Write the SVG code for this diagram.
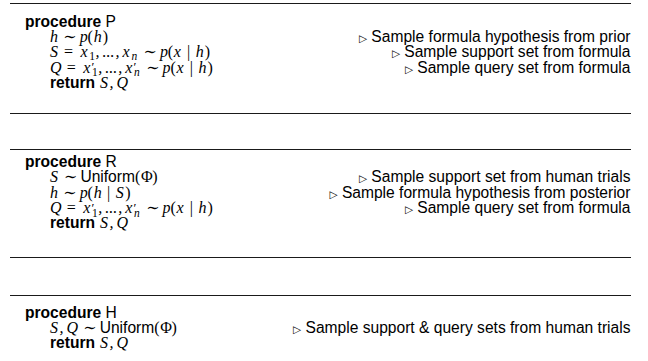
<svg xmlns="http://www.w3.org/2000/svg" width="648" height="361" viewBox="0 0 648 361">
  <style>
    .rule { stroke: #1a1a1a; stroke-width: 1.2; fill: none; }
    text { fill: #000; }
    .kw { font-family: "Liberation Sans", Arial, sans-serif; font-weight: bold; font-size: 15.6px; }
    .sf { font-family: "Liberation Sans", Arial, sans-serif; font-weight: normal; font-size: 15.6px; }
    .mi { font-family: "Liberation Serif", "DejaVu Serif", serif; font-style: italic; font-size: 16px; }
    .mr { font-family: "Liberation Serif", "DejaVu Serif", serif; font-style: normal; font-size: 16px; }
    .op { font-family: "Liberation Serif", "DejaVu Serif", serif; font-size: 16px; }
    .sub { font-size: 11.5px; }
    .pr { font-family: "Liberation Serif", "DejaVu Serif", serif; font-size: 13px; }
    .cm { font-family: "Liberation Sans", Arial, sans-serif; font-size: 15.6px; text-anchor: end; }
    .tri { font-family: "DejaVu Sans", sans-serif; font-size: 10.5px; }
  </style>

  <!-- rules framing each procedure -->
  <g id="rules">
    <line class="rule" x1="10" y1="3.5" x2="631" y2="3.5"/>
    <line class="rule" x1="10" y1="113.5" x2="631" y2="113.5"/>
    <line class="rule" x1="10" y1="149.5" x2="631" y2="149.5"/>
    <line class="rule" x1="10" y1="257.5" x2="631" y2="257.5"/>
    <line class="rule" x1="10" y1="295.5" x2="631" y2="295.5"/>
  </g>

  <!-- procedure P: sample from the prior -->
  <g id="procP">
    <text x="25" y="26.5"><tspan class="kw">procedure</tspan><tspan class="sf"> P</tspan></text>
    <text y="41.9">
      <tspan class="mi" x="50">h</tspan><tspan class="op" x="63.3">∼</tspan><tspan class="mi" x="79.8">p</tspan><tspan class="mr" x="87.6">(</tspan><tspan class="mi" x="93.7">h</tspan><tspan class="mr" x="102.7">)</tspan>
    </text>
    <text y="57.3">
      <tspan class="mi" x="50">S</tspan><tspan class="mr" x="63.9">=</tspan><tspan class="mi" x="80.4">x</tspan><tspan class="mr sub" x="89.3" y="59.6">1</tspan><tspan class="mi" x="95.5" y="57.3">,</tspan><tspan class="mi" x="102.5">...</tspan><tspan class="mi" x="115.5">,</tspan><tspan class="mi" x="122.4">x</tspan><tspan class="mi sub" x="131.4" y="59.6">n</tspan><tspan class="op" x="143.4" y="57.3">∼</tspan><tspan class="mi" x="159.9">p</tspan><tspan class="mr" x="167.7">(</tspan><tspan class="mi" x="173.8">x</tspan><tspan class="mr" x="187">|</tspan><tspan class="mi" x="195.7">h</tspan><tspan class="mr" x="204.7">)</tspan>
    </text>
    <text y="72.7">
      <tspan class="mi" x="50">Q</tspan><tspan class="mr" x="66.7">=</tspan><tspan class="mi" x="83.2">x</tspan><tspan class="pr" x="91.4" y="71.2">′</tspan><tspan class="mr sub" x="92.1" y="76.3">1</tspan><tspan class="mi" x="98.3" y="72.7">,</tspan><tspan class="mi" x="105.3">...</tspan><tspan class="mi" x="118.3">,</tspan><tspan class="mi" x="125.2">x</tspan><tspan class="pr" x="133.4" y="71.2">′</tspan><tspan class="mi sub" x="134.1" y="76.3">n</tspan><tspan class="op" x="146.2" y="72.7">∼</tspan><tspan class="mi" x="162.6">p</tspan><tspan class="mr" x="170.5">(</tspan><tspan class="mi" x="176.6">x</tspan><tspan class="mr" x="189.8">|</tspan><tspan class="mi" x="198.5">h</tspan><tspan class="mr" x="207.5">)</tspan>
    </text>
    <text y="88.1"><tspan class="kw" x="50">return</tspan><tspan class="mi" x="100">S</tspan><tspan class="mi" x="109.6">,</tspan><tspan class="mi" x="116.5">Q</tspan></text>
    <text class="cm" x="630.5" y="41.9"><tspan class="tri">▷</tspan> Sample formula hypothesis from prior</text>
    <text class="cm" x="630.5" y="57.3"><tspan class="tri">▷</tspan> Sample support set from formula</text>
    <text class="cm" x="630.5" y="72.7"><tspan class="tri">▷</tspan> Sample query set from formula</text>
  </g>

  <!-- procedure R: support from trials, hypothesis from posterior -->
  <g id="procR">
    <text x="25" y="166.8"><tspan class="kw">procedure</tspan><tspan class="sf"> R</tspan></text>
    <text y="182.2">
      <tspan class="mi" x="50">S</tspan><tspan class="op" x="63.9">∼</tspan><tspan class="sf" x="80.4">Uniform</tspan><tspan class="mr" x="135">(</tspan><tspan class="mr" x="141">Φ</tspan><tspan class="mr" x="152.3">)</tspan>
    </text>
    <text y="197.6">
      <tspan class="mi" x="50">h</tspan><tspan class="op" x="63.3">∼</tspan><tspan class="mi" x="79.8">p</tspan><tspan class="mr" x="87.6">(</tspan><tspan class="mi" x="93.7">h</tspan><tspan class="mr" x="107">|</tspan><tspan class="mi" x="115.7">S</tspan><tspan class="mr" x="125.3">)</tspan>
    </text>
    <text y="213">
      <tspan class="mi" x="50">Q</tspan><tspan class="mr" x="66.7">=</tspan><tspan class="mi" x="83.2">x</tspan><tspan class="pr" x="91.4" y="211.5">′</tspan><tspan class="mr sub" x="92.1" y="216.6">1</tspan><tspan class="mi" x="98.3" y="213">,</tspan><tspan class="mi" x="105.3">...</tspan><tspan class="mi" x="118.3">,</tspan><tspan class="mi" x="125.2">x</tspan><tspan class="pr" x="133.4" y="211.5">′</tspan><tspan class="mi sub" x="134.1" y="216.6">n</tspan><tspan class="op" x="146.2" y="213">∼</tspan><tspan class="mi" x="162.6">p</tspan><tspan class="mr" x="170.5">(</tspan><tspan class="mi" x="176.6">x</tspan><tspan class="mr" x="189.8">|</tspan><tspan class="mi" x="198.5">h</tspan><tspan class="mr" x="207.5">)</tspan>
    </text>
    <text y="228.4"><tspan class="kw" x="50">return</tspan><tspan class="mi" x="100">S</tspan><tspan class="mi" x="109.6">,</tspan><tspan class="mi" x="116.5">Q</tspan></text>
    <text class="cm" x="630.5" y="182.2"><tspan class="tri">▷</tspan> Sample support set from human trials</text>
    <text class="cm" x="630.5" y="197.6"><tspan class="tri">▷</tspan> Sample formula hypothesis from posterior</text>
    <text class="cm" x="630.5" y="213"><tspan class="tri">▷</tspan> Sample query set from formula</text>
  </g>

  <!-- procedure H: both sets from trials -->
  <g id="procH">
    <text x="25" y="317.5"><tspan class="kw">procedure</tspan><tspan class="sf"> H</tspan></text>
    <text y="332.5">
      <tspan class="mi" x="50">S</tspan><tspan class="mi" x="59.6">,</tspan><tspan class="mi" x="66.5">Q</tspan><tspan class="op" x="83.2">∼</tspan><tspan class="sf" x="99.7">Uniform</tspan><tspan class="mr" x="154.3">(</tspan><tspan class="mr" x="160.3">Φ</tspan><tspan class="mr" x="171.6">)</tspan>
    </text>
    <text y="347.5"><tspan class="kw" x="50">return</tspan><tspan class="mi" x="100">S</tspan><tspan class="mi" x="109.6">,</tspan><tspan class="mi" x="116.5">Q</tspan></text>
    <text class="cm" x="630.5" y="332.5"><tspan class="tri">▷</tspan> Sample support &amp; query sets from human trials</text>
  </g>
</svg>
